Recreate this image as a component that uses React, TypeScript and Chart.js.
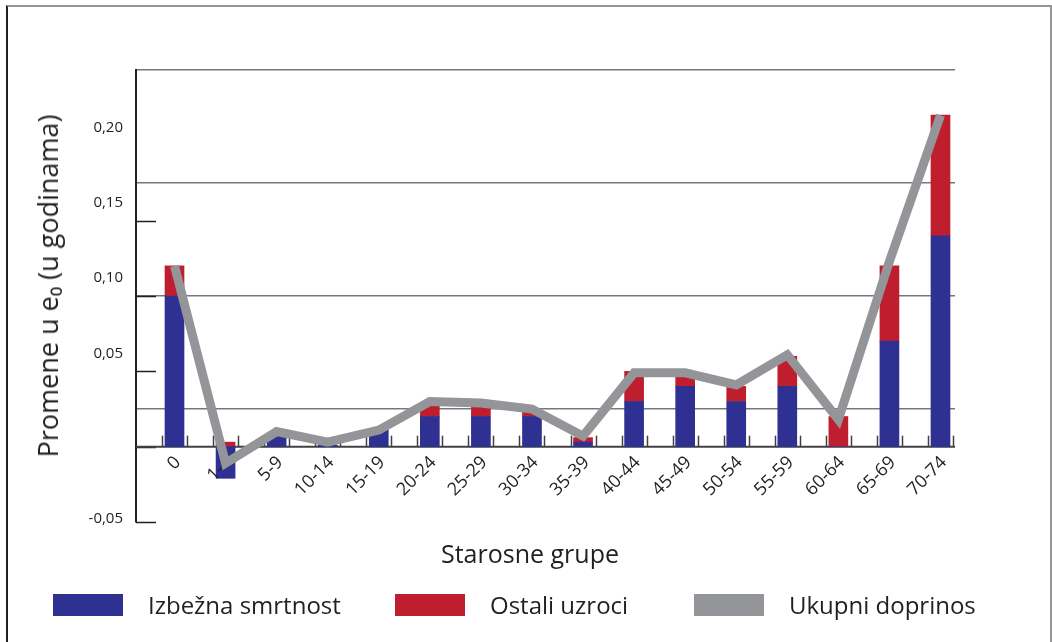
import React, { useEffect, useRef } from 'react';
import { Chart, registerables } from 'chart.js';

Chart.register(...registerables);

const categories = ['0', '1-4', '5-9', '10-14', '15-19', '20-24', '25-29', '30-34', '35-39', '40-44', '45-49', '50-54', '55-59', '60-64', '65-69', '70-74'];
const avoidable = [0.100, -0.021, 0.007, 0.001, 0.011, 0.020, 0.020, 0.020, 0.003, 0.030, 0.040, 0.030, 0.040, 0.000, 0.070, 0.140];
const otherCauses = [0.020, 0.003, 0.000, 0.000, 0.000, 0.009, 0.009, 0.004, 0.003, 0.020, 0.010, 0.010, 0.020, 0.020, 0.050, 0.080];
const totalContribution = [0.120, -0.011, 0.010, 0.003, 0.011, 0.030, 0.029, 0.025, 0.007, 0.049, 0.049, 0.041, 0.061, 0.018, 0.123, 0.220];

const yLabelValues = [0.20, 0.15, 0.10, 0.05, -0.05];
const yLabelTexts = ['0,20', '0,15', '0,10', '0,05', '-0,05'];
const yTickMarkValues = [0.15, 0.10, 0.05, 0, -0.05];
const yGridValues = [0.025, 0.10, 0.175, 0.25];

const legendItems = [
  { label: 'Izbežna smrtnost', color: '#2e3192' },
  { label: 'Ostali uzroci', color: '#be1e2d' },
  { label: 'Ukupni doprinos', color: '#939598' },
];

const TEXT = '#231f20';
const FONT = '"Open Sans", "DejaVu Sans", sans-serif';

const decor = {
  id: 'decor',
  beforeDatasetsDraw(chart: any) {
    const { ctx, chartArea, scales } = chart;
    const x = scales.x;
    const y = scales.y;
    ctx.save();
    ctx.strokeStyle = TEXT;
    ctx.lineWidth = 1.5;
    yTickMarkValues.forEach((v) => {
      const py = Math.round(y.getPixelForValue(v)) + 0.5;
      ctx.beginPath();
      ctx.moveTo(chartArea.left, py);
      ctx.lineTo(chartArea.left + 20, py);
      ctx.stroke();
    });
    const y0 = y.getPixelForValue(0);
    ctx.strokeStyle = '#414042';
    categories.forEach((_, i) => {
      [-0.245, 0.245].forEach((d) => {
        const px = Math.round(x.getPixelForValue(i + d)) + 0.5;
        ctx.beginPath();
        ctx.moveTo(px, y0);
        ctx.lineTo(px, y0 - 11);
        ctx.stroke();
      });
    });
    ctx.lineWidth = 2;
    ctx.beginPath();
    ctx.moveTo(chartArea.left, y0);
    ctx.lineTo(chartArea.right, y0);
    ctx.stroke();
    ctx.restore();
  },
  beforeDatasetDraw(chart: any, args: any) {
    if (args.index !== 0) return;
    const { ctx, scales } = chart;
    const x = scales.x;
    const y = scales.y;
    const y0 = y.getPixelForValue(0);
    ctx.save();
    ctx.fillStyle = TEXT;
    ctx.font = '18px ' + FONT;
    ctx.textAlign = 'right';
    ctx.textBaseline = 'middle';
    categories.forEach((c, i) => {
      const px = x.getPixelForValue(i);
      ctx.save();
      ctx.translate(px + 3.5, y0 + 13);
      ctx.rotate(-Math.PI / 4);
      ctx.fillText(c, 0, 0);
      ctx.restore();
    });
    ctx.restore();
  },
  afterDraw(chart: any) {
    const { ctx, chartArea, scales } = chart;
    const y = scales.y;
    ctx.save();
    ctx.fillStyle = TEXT;
    ctx.font = '15px ' + FONT;
    ctx.textAlign = 'right';
    ctx.textBaseline = 'middle';
    yLabelValues.forEach((v, k) => {
      const shift = v <= y.min ? -3 : -18;
      ctx.fillText(yLabelTexts[k], chartArea.left - 13, y.getPixelForValue(v) + shift);
    });
    ctx.restore();
  },
};

export default function App() {
  const ref = useRef<HTMLCanvasElement>(null);

  useEffect(() => {
    if (!ref.current) return;
    const chart = new Chart(ref.current, {
      type: 'bar',
      data: {
        datasets: [
          {
            type: 'line',
            label: legendItems[2].label,
            data: totalContribution.map((v, i) => ({ x: i, y: v })),
            borderColor: '#939598',
            backgroundColor: '#939598',
            borderWidth: 9,
            pointRadius: 0,
            tension: 0,
            borderCapStyle: 'butt',
            borderJoinStyle: 'miter',
            stack: 'total',
            order: 0,
          } as any,
          {
            type: 'bar',
            label: legendItems[0].label,
            data: avoidable.map((v, i) => ({ x: i, y: v })),
            backgroundColor: '#2e3192',
            barThickness: 19,
            stack: 'causes',
            order: 1,
          },
          {
            type: 'bar',
            label: legendItems[1].label,
            data: otherCauses.map((v, i) => ({ x: i, y: v })),
            backgroundColor: '#be1e2d',
            barThickness: 19,
            stack: 'causes',
            order: 1,
          },
        ],
      },
      options: {
        responsive: false,
        animation: false,
        layout: { padding: { left: 136, right: 97, top: 70, bottom: 120 } },
        plugins: { legend: { display: false }, tooltip: { enabled: false } },
        scales: {
          x: {
            type: 'linear',
            position: 'bottom',
            offset: false,
            min: -0.754,
            max: 15.284,
            stacked: true,
            grid: { display: false, drawTicks: false, offset: false },
            border: { display: false },
            ticks: { display: false },
            afterFit: (s: any) => {
              s.height = 0;
            },
          },
          y: {
            min: -0.05,
            max: 0.25,
            stacked: true,
            afterBuildTicks: (s: any) => {
              s.ticks = yGridValues.map((v) => ({ value: v }));
            },
            afterFit: (s: any) => {
              s.width = 0;
            },
            grid: { color: '#77787b', lineWidth: 1.5, drawTicks: false },
            border: { display: true, color: TEXT, width: 2 },
            ticks: { display: false },
          },
        },
      },
      plugins: [decor],
    });
    return () => chart.destroy();
  }, []);

  return (
    <div style={{ position: 'fixed', left: 0, top: 0, width: 1052, height: 642, background: '#fff', fontFamily: FONT, color: TEXT, overflow: 'hidden' }}>
      <div style={{ position: 'absolute', left: 6, top: 5, width: 1042, height: 660, borderTop: '2px solid #939598', borderLeft: '2px solid #231f20', borderRight: '2px solid #939598' }} />
      <canvas ref={ref} width={1052} height={642} style={{ position: 'absolute', left: 0, top: 0 }} />
      <div style={{ position: 'absolute', left: 48, top: 286, transform: 'translate(-50%, -50%) rotate(-90deg)', whiteSpace: 'nowrap', fontSize: 27, lineHeight: '32px' }}>
        Promene u e₀ (u godinama)
      </div>
      <div style={{ position: 'absolute', left: 530, top: 553, transform: 'translate(-50%, -50%)', whiteSpace: 'nowrap', fontSize: 25, lineHeight: '30px' }}>
        Starosne grupe
      </div>
      {legendItems.map((it, k) => {
        const boxLeft = [53, 395, 694][k];
        return (
          <div key={it.label} style={{ position: 'absolute', left: boxLeft, top: 594, display: 'flex', alignItems: 'center', whiteSpace: 'nowrap' }}>
            <span style={{ display: 'inline-block', width: 70, height: 22, background: it.color }} />
            <span style={{ marginLeft: 25, fontSize: 24, lineHeight: '22px' }}>{it.label}</span>
          </div>
        );
      })}
    </div>
  );
}
